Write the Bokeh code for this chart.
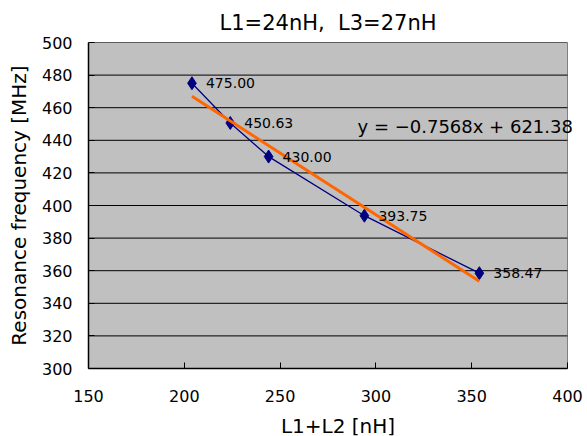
from bokeh.plotting import figure
from bokeh.models import FixedTicker, Label, ColumnDataSource, Range1d
from bokeh.core.properties import value
from bokeh.embed import file_html
from bokeh.resources import INLINE

# Data
inductance = [204, 224, 244, 294, 354]           # L1+L2 [nH]
frequency = [475.00, 450.63, 430.00, 393.75, 358.47]  # MHz
point_labels = ["475.00", "450.63", "430.00", "393.75", "358.47"]
trend_slope = -0.7568
trend_intercept = 621.38
trend_text = "y = \u22120.7568x + 621.38"
x_ticks = [150, 200, 250, 300, 350, 400]
y_ticks = [300, 320, 340, 360, 380, 400, 420, 440, 460, 480, 500]

FONT = "DejaVu Sans"
X0, X1 = x_ticks[0], x_ticks[-1]
Y0, Y1 = y_ticks[0], y_ticks[-1]

# frame extended to the right edge so the equation text is not clipped
PLOT_W = 479
FRAME_W = 499
x_end = X0 + (X1 - X0) * FRAME_W / PLOT_W

p = figure(frame_width=FRAME_W, frame_height=326, output_backend="svg",
           toolbar_location=None,
           x_range=Range1d(X0, x_end), y_range=Range1d(Y0, Y1),
           min_border_left=88, min_border_right=0, min_border_top=42,
           min_border_bottom=68,
           title="L1=24nH,\u00a0 L3=27nH")

p.background_fill_color = "white"
p.border_fill_color = "white"
p.outline_line_color = None

p.title.align = "left"
p.title.offset = 131
p.title.standoff = 16
p.title.text_font = FONT
p.title.text_font_size = "21px"
p.title.text_font_style = "normal"
p.title.text_color = "black"

p.xgrid.visible = False
p.ygrid.visible = False

for ax in (p.xaxis[0], p.yaxis[0]):
    ax.major_label_text_font = FONT
    ax.major_label_text_font_size = "16px"
    ax.major_label_text_color = "black"
    ax.axis_label_text_font = FONT
    ax.axis_label_text_font_size = "20px"
    ax.axis_label_text_font_style = "normal"
    ax.axis_label_text_color = "black"
    ax.axis_line_color = "black"
    ax.axis_line_width = 1.5
    ax.major_tick_line_color = "black"
    ax.major_tick_in = 6
    ax.major_tick_out = 0
    ax.minor_tick_line_color = None

p.xaxis.bounds = (X0, X1)
p.xaxis.ticker = FixedTicker(ticks=x_ticks)
p.yaxis.ticker = FixedTicker(ticks=y_ticks)
p.xaxis.axis_label = "L1+L2 [nH]"
p.yaxis.axis_label = "Resonance frequency [MHz]"
p.xaxis.major_label_standoff = 21
p.yaxis.major_label_standoff = 16
p.xaxis.axis_label_standoff = 9
p.yaxis.axis_label_standoff = 8

# plot area (gray) with gray outline
p.quad(left=[X0], right=[X1], bottom=[Y0], top=[Y1],
       fill_color="#c0c0c0", line_color="#808080", line_width=1)

# horizontal gridlines
p.segment(x0=[X0] * len(y_ticks), x1=[X1] * len(y_ticks), y0=y_ticks, y1=y_ticks,
          line_color="black", line_width=1)

src = ColumnDataSource(dict(x=inductance, y=frequency, lab=point_labels))

# data series
p.line("x", "y", source=src, line_color="#000080", line_width=1.3)
p.scatter("x", "y", source=src, marker="diamond", size=13,
          fill_color="#000080", line_color="#000080")

# trendline
tx = [min(inductance), max(inductance)]
ty = [trend_slope * v + trend_intercept for v in tx]
p.line(tx, ty, line_color="#ff6600", line_width=3)

# data labels
p.text("x", "y", text="lab", source=src, x_offset=14, text_baseline="middle",
       text_font=value(FONT), text_font_size="14px", text_color="black")

# equation
p.add_layout(Label(x=290.4, y=448.5, text=trend_text, text_baseline="middle",
                   text_font=FONT, text_font_size="18px", text_color="black"))

open("out.html", "w").write(file_html(p, INLINE))
